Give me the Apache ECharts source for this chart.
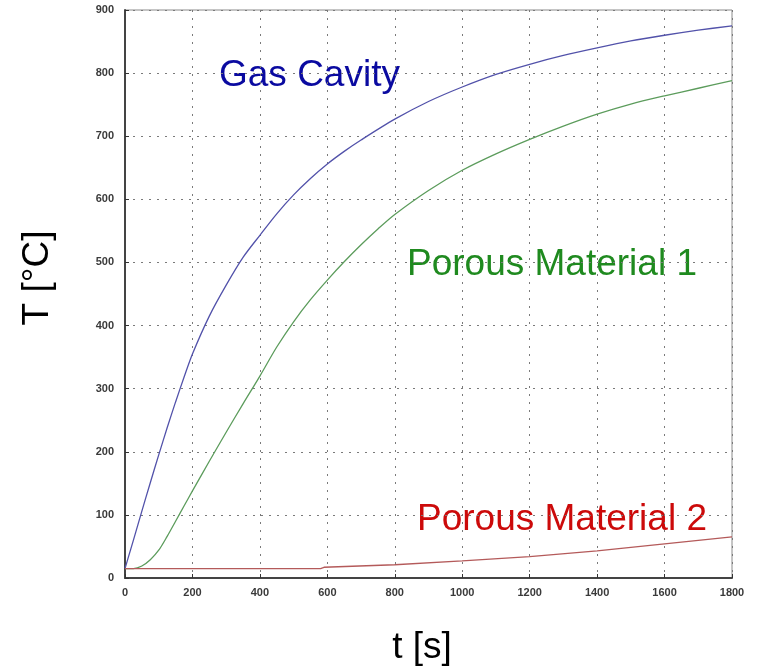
<!DOCTYPE html>
<html>
<head>
<meta charset="utf-8">
<script src="https://cdn.jsdelivr.net/npm/echarts@6/dist/echarts.min.js"></script>
<style>
  html, body { margin: 0; padding: 0; background: #fff; }
  #chart { width: 757px; height: 669px; }
</style>
</head>
<body>
<div id="chart"></div>
<script>
// Temperature histories, time in seconds, temperature in °C
const gasCavity = [
  [0, 15], [10, 33], [25, 60], [50, 106], [75, 151], [100, 195], [125, 238],
  [150, 279], [175, 318], [200, 355], [250, 415], [300, 464], [350, 508],
  [400, 543], [450, 577], [500, 607], [550, 633], [600, 656], [650, 676],
  [700, 694], [800, 727], [900, 755], [1000, 778], [1100, 798], [1200, 814],
  [1300, 828], [1400, 840], [1500, 851], [1600, 860], [1700, 868], [1800, 875]
];
const porous1 = [
  [0, 15], [25, 15], [50, 19], [75, 29], [100, 44], [125, 66], [150, 90],
  [175, 114], [200, 138], [250, 185], [300, 231], [350, 276], [400, 320],
  [450, 366], [500, 406], [550, 441], [600, 472], [650, 501], [700, 528],
  [750, 553], [800, 576], [900, 614], [1000, 646], [1100, 672], [1200, 695],
  [1300, 716], [1400, 735], [1500, 751], [1600, 764], [1700, 776], [1800, 788]
];
const porous2 = [
  [0, 15], [580, 15], [590, 17], [800, 21], [1000, 27], [1200, 34],
  [1400, 43], [1600, 54], [1800, 65]
];
const xTicks = [0, 200, 400, 600, 800, 1000, 1200, 1400, 1600, 1800];
const yTicks = [0, 100, 200, 300, 400, 500, 600, 700, 800, 900];

const chart = echarts.init(document.getElementById('chart'));

const tickLabel = {
  fontFamily: 'Liberation Sans, Arial, sans-serif',
  fontSize: 11,
  fontWeight: 'bold',
  color: '#3a3a3a',
  formatter: v => String(v)
};
const dotted = { show: true, lineStyle: { color: '#7a7a7a', type: [2, 6], width: 1 } };
const bigFont = '37px Liberation Sans, Arial, sans-serif';

chart.setOption({
  backgroundColor: '#ffffff',
  animation: false,
  grid: {
    left: 125, right: 25, top: 10, bottom: 91,
    show: true, borderColor: '#8a8a8a', borderWidth: 1
  },
  xAxis: {
    type: 'value',
    min: xTicks[0], max: xTicks[xTicks.length - 1], interval: 200,
    axisLine: { show: true, onZero: false, lineStyle: { color: '#444', width: 2 } },
    axisTick: { show: true, inside: true, length: 4, lineStyle: { color: '#333' } },
    axisLabel: Object.assign({}, tickLabel, { margin: 9 }),
    splitLine: dotted
  },
  yAxis: {
    type: 'value',
    min: yTicks[0], max: yTicks[yTicks.length - 1], interval: 100,
    axisLine: { show: true, onZero: false, lineStyle: { color: '#444', width: 2 } },
    axisTick: { show: true, inside: true, length: 4, lineStyle: { color: '#333' } },
    axisLabel: Object.assign({}, tickLabel, { margin: 11 }),
    splitLine: dotted
  },
  series: [
    { name: 'Gas Cavity', type: 'line', data: gasCavity, showSymbol: false,
      smooth: 0.3, lineStyle: { color: '#5252aa', width: 1.3 } },
    { name: 'Porous Material 1', type: 'line', data: porous1, showSymbol: false,
      smooth: 0.3, lineStyle: { color: '#5c9c5c', width: 1.3 } },
    { name: 'Porous Material 2', type: 'line', data: porous2, showSymbol: false,
      lineStyle: { color: '#b45a5a', width: 1.3 } }
  ],
  graphic: [
    { type: 'text', x: 219, y: 76,
      style: { text: 'Gas Cavity', fill: '#0a0aa0', font: bigFont, textVerticalAlign: 'middle' } },
    { type: 'text', x: 407, y: 265,
      style: { text: 'Porous Material 1', fill: '#1f8a1f', font: bigFont, textVerticalAlign: 'middle' } },
    { type: 'text', x: 417, y: 520,
      style: { text: 'Porous Material 2', fill: '#cc0a0a', font: bigFont, textVerticalAlign: 'middle' } },
    { type: 'text', x: 38, y: 278, rotation: Math.PI / 2,
      style: { text: 'T [°C]', fill: '#000', font: bigFont,
               textAlign: 'center', textVerticalAlign: 'middle' } },
    { type: 'text', x: 422, y: 648,
      style: { text: 't [s]', fill: '#000', font: bigFont,
               textAlign: 'center', textVerticalAlign: 'middle' } }
  ]
});
</script>
</body>
</html>
